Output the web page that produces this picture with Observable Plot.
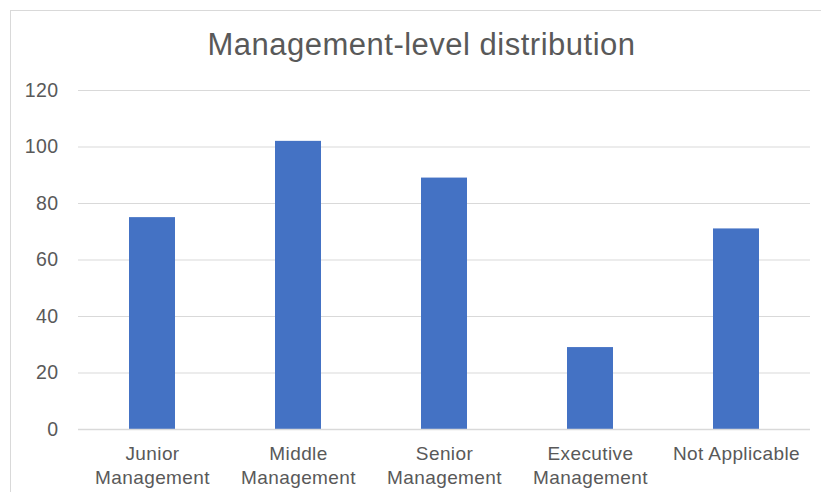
<!DOCTYPE html>
<html>
<head>
<meta charset="utf-8">
<script src="https://cdn.jsdelivr.net/npm/d3@7"></script>
<script src="https://cdn.jsdelivr.net/npm/@observablehq/plot@0.6"></script>
<style>
  html, body { margin: 0; padding: 0; background: #fff; overflow: hidden; }
  #wrap { position: relative; width: 821px; height: 492px; overflow: hidden; font-family: "Liberation Sans", Arial, sans-serif; }
  #frame { position: absolute; left: 10px; top: 10px; width: 830px; height: 500px; border: 1px solid #d9d9d9; box-sizing: border-box; }
  #title { position: absolute; left: 0; top: 29px; width: 843px; text-align: center; font-size: 31px; line-height: 1; color: #595959; letter-spacing: 0.5px; }
  #chart { position: absolute; left: 0; top: 0; }
  #chart svg text { letter-spacing: 0.4px; }
</style>
</head>
<body>
<div id="wrap">
  <div id="frame"></div>
  <div id="chart"></div>
  <div id="title">Management-level distribution</div>
</div>
<script>
const categories = ["Junior Management", "Middle Management", "Senior Management", "Executive Management", "Not Applicable"];
const tickLabels = ["Junior\nManagement", "Middle\nManagement", "Senior\nManagement", "Executive\nManagement", "Not Applicable"];
const counts = [75, 102, 89, 29, 71];
const yTicks = [0, 20, 40, 60, 80, 100, 120];

const data = categories.map((c, i) => ({category: c, count: counts[i]}));
const labelOf = new Map(categories.map((c, i) => [c, tickLabels[i]]));

const chart = Plot.plot({
  width: 821,
  height: 492,
  marginLeft: 78,
  marginRight: 11,
  marginTop: 90,
  marginBottom: 63,
  style: {fontFamily: '"Liberation Sans", Arial, sans-serif', fontSize: "19px", color: "#595959", background: "transparent"},
  x: {domain: categories, paddingInner: 0.686, paddingOuter: 0.343, label: null},
  y: {domain: [0, 120], label: null},
  marks: [
    Plot.ruleY(yTicks.filter(d => d > 0), {stroke: "#d9d9d9", strokeWidth: 1, strokeOpacity: 1}),
    Plot.barY(data, {x: "category", y: "count", fill: "#4472c4"}),
    Plot.ruleY([0], {stroke: "#d9d9d9", strokeWidth: 1.3, strokeOpacity: 1}),
    Plot.axisY({ticks: yTicks, tickSize: 0, tickPadding: 20, fontSize: 19.5, fill: "#595959", label: null}),
    Plot.axisX({tickSize: 0, tickPadding: 14, fontSize: 19, fill: "#595959", lineHeight: 1.25, tickFormat: d => labelOf.get(d), label: null})
  ]
});
document.getElementById("chart").appendChild(chart);
</script>
</body>
</html>
